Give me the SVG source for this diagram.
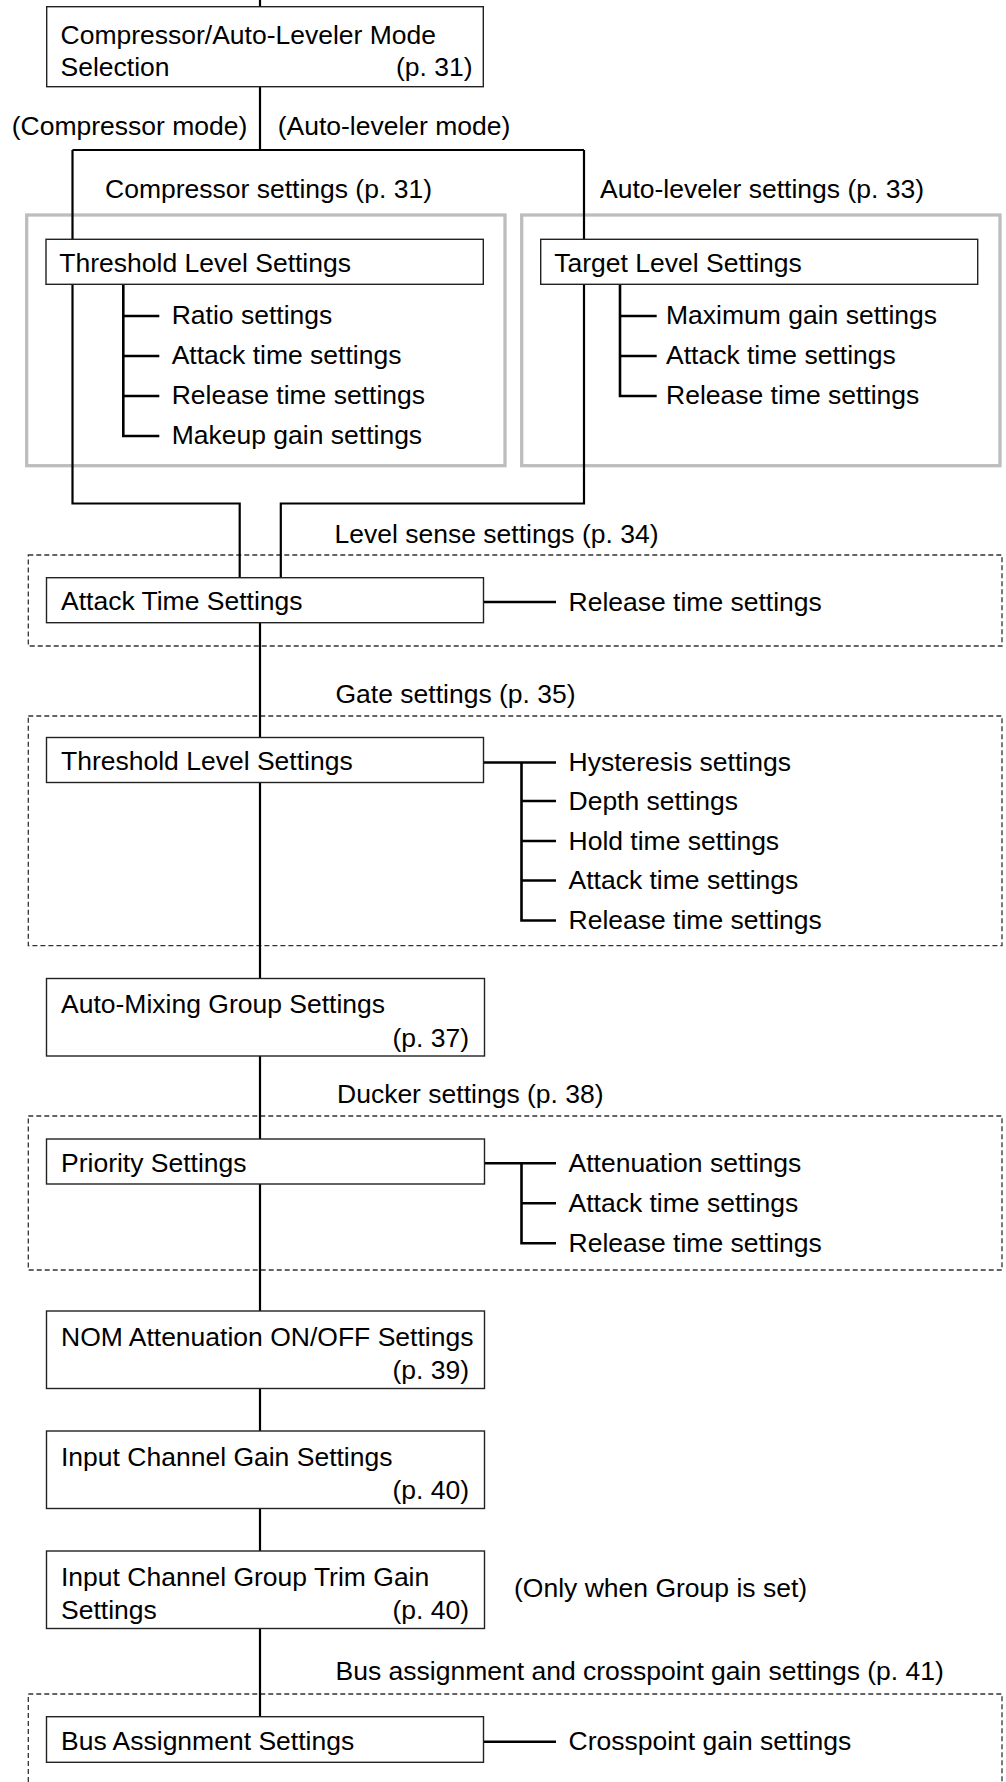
<svg xmlns="http://www.w3.org/2000/svg" width="1006" height="1782" viewBox="0 0 1006 1782">
<style>
text{font-family:"Liberation Sans",Arial,Helvetica,sans-serif;font-size:26.5px;fill:#000}
.end{text-anchor:end}
.box{fill:#fff;stroke:#222;stroke-width:1.4}
.grey{fill:none;stroke:#bdbdbd;stroke-width:3.3}
.dash{fill:none;stroke:#333;stroke-width:1.3;stroke-dasharray:5 3}
.wire{fill:none;stroke:#000;stroke-width:2.2}
.br{fill:none;stroke:#000;stroke-width:2.6}
</style>
<rect width="1006" height="1782" fill="#fff"/>

<g id="frames">
  <rect class="grey" x="26.7" y="215" width="478.3" height="250.7"/>
  <rect class="grey" x="521.7" y="215" width="478.3" height="250.7"/>
  <rect class="dash" x="28.3" y="555" width="973.7" height="91"/>
  <rect class="dash" x="28.3" y="716" width="973.7" height="229.7"/>
  <rect class="dash" x="28.3" y="1116" width="973.7" height="154"/>
  <path class="dash" d="M28.3,1790 V1694 H1002 V1790"/>
</g>

<g id="labels">
  <text x="11.7" y="135">(Compressor mode)</text>
  <text x="277.7" y="135">(Auto-leveler mode)</text>
  <text x="105" y="198">Compressor settings (p. 31)</text>
  <text x="600" y="198">Auto-leveler settings (p. 33)</text>
  <text x="334.5" y="543">Level sense settings (p. 34)</text>
  <text x="335.5" y="703">Gate settings (p. 35)</text>
  <text x="337" y="1103">Ducker settings (p. 38)</text>
  <text x="514" y="1596.5">(Only when Group is set)</text>
  <text x="335.5" y="1680">Bus assignment and crosspoint gain settings (p. 41)</text>
</g>

<g id="connectors">
  <path class="wire" d="M260,0 V7"/>
  <path class="wire" d="M260,87 V150"/>
  <path class="wire" d="M72.5,150 H584"/>
  <path class="wire" d="M72.5,150 V503.5 H239.7 V578"/>
  <path class="wire" d="M584,150 V503.5 H280.8 V578"/>
  <path class="wire" d="M260,622.5 V737.5"/>
  <path class="wire" d="M260,782.5 V978.5"/>
  <path class="wire" d="M260,1056 V1139"/>
  <path class="wire" d="M260,1184 V1311"/>
  <path class="wire" d="M260,1388.5 V1431"/>
  <path class="wire" d="M260,1508.5 V1551"/>
  <path class="wire" d="M260,1628.5 V1717"/>
  <!-- compressor sub-branches -->
  <path class="br" d="M123.3,284.3 V436 H159.3 M123.3,316 H159.3 M123.3,356 H159.3 M123.3,396 H159.3"/>
  <!-- auto-leveler sub-branches -->
  <path class="br" d="M620,284.3 V396 H656.7 M620,316 H656.7 M620,356 H656.7"/>
  <!-- level sense -->
  <path class="br" d="M483.5,602 H556"/>
  <!-- gate -->
  <path class="br" d="M483.5,762.5 H556 M521.5,762.5 V920.5 H556 M521.5,801 H556 M521.5,841 H556 M521.5,880.5 H556"/>
  <!-- ducker -->
  <path class="br" d="M483.5,1163.3 H556 M521.5,1163.3 V1243.3 H556 M521.5,1203.3 H556"/>
  <!-- bus -->
  <path class="br" d="M483.5,1741.7 H556"/>
</g>

<g id="sub-items">
  <text x="171.7" y="324.3">Ratio settings</text>
  <text x="171.7" y="364.3">Attack time settings</text>
  <text x="171.7" y="404.3">Release time settings</text>
  <text x="171.7" y="444.3">Makeup gain settings</text>
  <text x="666" y="324.3">Maximum gain settings</text>
  <text x="666" y="364.3">Attack time settings</text>
  <text x="666" y="404.3">Release time settings</text>
  <text x="568.5" y="610.5">Release time settings</text>
  <text x="568.5" y="771">Hysteresis settings</text>
  <text x="568.5" y="809.5">Depth settings</text>
  <text x="568.5" y="849.5">Hold time settings</text>
  <text x="568.5" y="889">Attack time settings</text>
  <text x="568.5" y="929">Release time settings</text>
  <text x="568.5" y="1171.5">Attenuation settings</text>
  <text x="568.5" y="1211.5">Attack time settings</text>
  <text x="568.5" y="1251.5">Release time settings</text>
  <text x="568.5" y="1750">Crosspoint gain settings</text>
</g>

<g id="node-mode">
  <rect class="box" x="46.7" y="6.7" width="436.6" height="80"/>
  <text x="60.5" y="43.5">Compressor/Auto-Leveler Mode</text>
  <text x="60.5" y="75.5">Selection</text>
  <text class="end" x="472.5" y="75.5">(p. 31)</text>
</g>
<g id="node-comp-threshold">
  <rect class="box" x="46" y="239.3" width="437.3" height="45"/>
  <text x="59.3" y="271.7">Threshold Level Settings</text>
</g>
<g id="node-target">
  <rect class="box" x="540.7" y="239.3" width="437" height="45"/>
  <text x="554.3" y="271.7">Target Level Settings</text>
</g>
<g id="node-attack">
  <rect class="box" x="46.5" y="577.7" width="437" height="45"/>
  <text x="61" y="610.2">Attack Time Settings</text>
</g>
<g id="node-gate-threshold">
  <rect class="box" x="46.5" y="737.5" width="437" height="45"/>
  <text x="61" y="770">Threshold Level Settings</text>
</g>
<g id="node-automix">
  <rect class="box" x="46.5" y="978.5" width="438" height="77.5"/>
  <text x="61" y="1013">Auto-Mixing Group Settings</text>
  <text class="end" x="469" y="1046.5">(p. 37)</text>
</g>
<g id="node-priority">
  <rect class="box" x="46.5" y="1139" width="438" height="45"/>
  <text x="61" y="1171.5">Priority Settings</text>
</g>
<g id="node-nom">
  <rect class="box" x="46.5" y="1311" width="438" height="77.5"/>
  <text x="61" y="1345.5">NOM Attenuation ON/OFF Settings</text>
  <text class="end" x="469" y="1378.5">(p. 39)</text>
</g>
<g id="node-input-gain">
  <rect class="box" x="46.5" y="1431" width="438" height="77.5"/>
  <text x="61" y="1465.5">Input Channel Gain Settings</text>
  <text class="end" x="469" y="1498.5">(p. 40)</text>
</g>
<g id="node-group-trim">
  <rect class="box" x="46.5" y="1551" width="438" height="77.5"/>
  <text x="61" y="1585.5">Input Channel Group Trim Gain</text>
  <text x="61" y="1618.5">Settings</text>
  <text class="end" x="469" y="1618.5">(p. 40)</text>
</g>
<g id="node-bus">
  <rect class="box" x="46.5" y="1716.7" width="437" height="45.6"/>
  <text x="61" y="1749.5">Bus Assignment Settings</text>
</g>
</svg>
